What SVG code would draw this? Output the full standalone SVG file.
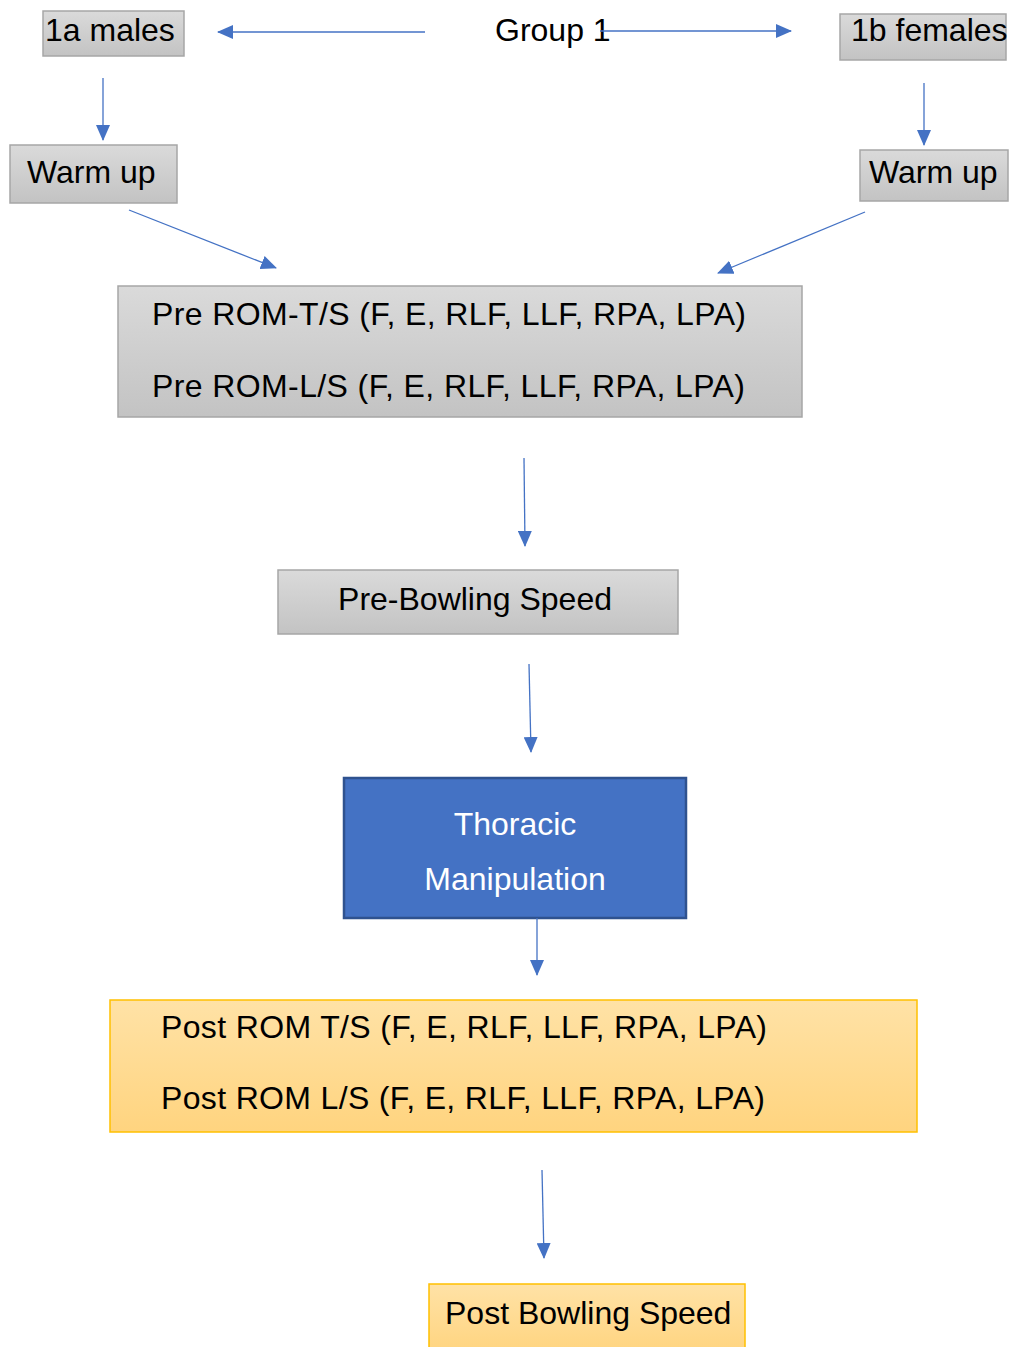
<svg xmlns="http://www.w3.org/2000/svg" width="1012" height="1347" viewBox="0 0 1012 1347">
<defs>
<linearGradient id="gray" x1="0" y1="0" x2="0" y2="1">
<stop offset="0" stop-color="#DADADA"/>
<stop offset="1" stop-color="#C3C3C3"/>
</linearGradient>
<linearGradient id="gold" x1="0" y1="0" x2="0" y2="1">
<stop offset="0" stop-color="#FFE2A6"/>
<stop offset="1" stop-color="#FFD47F"/>
</linearGradient>
<marker id="ahl" markerWidth="16" markerHeight="14" refX="15" refY="7" orient="auto" markerUnits="userSpaceOnUse">
<path d="M0,0 L16,7 L0,14 Z" fill="#4472C4"/>
</marker>
</defs>
<style>
text{font-family:"Liberation Sans",Arial,sans-serif;font-size:32px;fill:#000}
.g{fill:url(#gray);stroke:#A6A6A6;stroke-width:1.5}
.o{fill:url(#gold);stroke:#FFC000;stroke-width:1.5}
.b{fill:#4472C4;stroke:#2F528F;stroke-width:2.5}
.w{fill:#fff}
.c line{stroke:#4472C4;stroke-width:1.3;marker-end:url(#ahl)}
</style>
<g id="n_group1"><text x="495" y="41">Group 1</text></g>
<g id="n_1a"><rect class="g" x="43" y="11" width="141" height="45"/><text x="45" y="41">1a males</text></g>
<g id="n_1b"><rect class="g" x="840" y="14" width="166" height="46"/><text x="851" y="41">1b females</text></g>
<g id="n_warm_l"><rect class="g" x="10" y="145" width="167" height="58"/><text x="27" y="183">Warm up</text></g>
<g id="n_warm_r"><rect class="g" x="860" y="150" width="148" height="51"/><text x="869" y="183">Warm up</text></g>
<g id="n_pre_rom"><rect class="g" x="118" y="286" width="684" height="131"/><text x="152" y="325" textLength="594">Pre ROM-T/S (F, E, RLF, LLF, RPA, LPA)</text><text x="152" y="397" textLength="593">Pre ROM-L/S (F, E, RLF, LLF, RPA, LPA)</text></g>
<g id="n_pre_bowl"><rect class="g" x="278" y="570" width="400" height="64"/><text x="475" y="610" text-anchor="middle">Pre-Bowling Speed</text></g>
<g id="n_thoracic"><rect class="b" x="344" y="778" width="342" height="140"/><text class="w" x="515" y="835" text-anchor="middle">Thoracic</text><text class="w" x="515" y="890" text-anchor="middle">Manipulation</text></g>
<g id="n_post_rom"><rect class="o" x="110" y="1000" width="807" height="132"/><text x="161" y="1038" textLength="606">Post ROM T/S (F, E, RLF, LLF, RPA, LPA)</text><text x="161" y="1109" textLength="604">Post ROM L/S (F, E, RLF, LLF, RPA, LPA)</text></g>
<g id="n_post_bowl"><rect class="o" x="429" y="1284" width="316" height="70"/><text x="445" y="1324">Post Bowling Speed</text></g>
<g class="c" id="connectors">
<line x1="425" y1="32" x2="218" y2="32"/>
<line x1="600" y1="31" x2="791" y2="31"/>
<line x1="103" y1="78" x2="103" y2="140"/>
<line x1="924" y1="83" x2="924" y2="145"/>
<line x1="129" y1="210" x2="276" y2="268"/>
<line x1="865" y1="212" x2="718" y2="273"/>
<line x1="524" y1="458" x2="525" y2="546"/>
<line x1="529" y1="664" x2="531" y2="752"/>
<line x1="537" y1="918" x2="537" y2="975"/>
<line x1="542" y1="1170" x2="544" y2="1258"/>
</g>
</svg>
